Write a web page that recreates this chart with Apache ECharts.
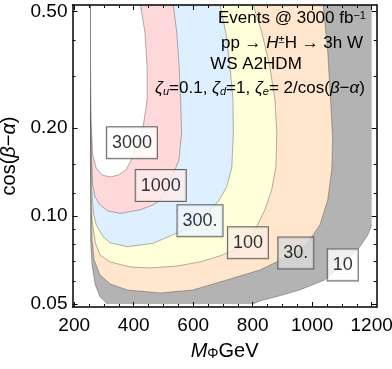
<!DOCTYPE html>
<html>
<head>
<meta charset="utf-8">
<script src="https://cdn.jsdelivr.net/npm/echarts@6.0.0/dist/echarts.min.js"></script>
<style>
html,body{margin:0;padding:0;background:#fff;}
#chart{width:392px;height:369px;}
</style>
</head>
<body>
<div id="chart"></div>
<script>
// ---------------- data ----------------
const levels = [10, 30, 100, 300, 1000, 3000];
const levelLabels = ['10', '30.', '100', '300.', '1000', '3000'];

// contour curves (M_Phi [GeV], cos(beta-alpha)), traced from the top edge, around, back to the top-left edge
const c10x = [1200, 1200, 1187, 1160, 1103, 1042, 958, 891, 824, 801, 311, 287, 271, 260, 255, 255];
const c10y = [0.527, 0.0932, 0.0861, 0.0783, 0.068, 0.0604, 0.0558, 0.0533, 0.0512, 0.05, 0.05, 0.0529, 0.058, 0.068, 0.0828, 0.527];

const c30x = [1037, 1052, 1062, 1069, 1066, 1052, 1026, 985, 945, 881, 824, 713, 599, 489, 378, 321, 287, 267, 260, 257, 255];
const c30y = [0.527, 0.37, 0.249, 0.182, 0.144, 0.113, 0.0932, 0.0809, 0.0747, 0.0696, 0.0653, 0.0604, 0.0558, 0.0545, 0.0558, 0.0585, 0.0628, 0.0707, 0.0828, 0.113, 0.527];

const c100x = [802, 831, 858, 875, 881, 878, 864, 841, 811, 784, 740, 690, 623, 546, 455, 388, 321, 287, 271, 260, 257, 255];
const c100y = [0.527, 0.423, 0.323, 0.249, 0.192, 0.147, 0.123, 0.105, 0.091, 0.0809, 0.0765, 0.073, 0.0696, 0.0674, 0.0664, 0.0669, 0.0696, 0.0735, 0.0809, 0.0969, 0.123, 0.527];

const c300x = [690, 710, 724, 734, 735, 730, 713, 687, 623, 573, 545, 465, 378, 321, 297, 274, 265, 259, 257, 255];
const c300y = [0.527, 0.423, 0.323, 0.249, 0.192, 0.147, 0.126, 0.113, 0.0962, 0.0896, 0.0873, 0.0806, 0.0785, 0.0809, 0.085, 0.0932, 0.102, 0.123, 0.168, 0.527];

const c1000x = [533, 545, 553, 558, 561, 552, 539, 515, 489, 465, 422, 354, 314, 287, 270, 262, 259, 255, 255];
const c1000y = [0.527, 0.423, 0.323, 0.249, 0.192, 0.155, 0.144, 0.128, 0.113, 0.109, 0.105, 0.102, 0.104, 0.109, 0.116, 0.128, 0.155, 0.249, 0.527];

const c3000x = [423, 438, 445, 445, 432, 411, 391, 375, 348, 321, 294, 274, 262, 257, 255, 255];
const c3000y = [0.527, 0.423, 0.323, 0.249, 0.203, 0.178, 0.155, 0.144, 0.138, 0.136, 0.138, 0.146, 0.162, 0.213, 0.342, 0.527];

// contour label positions
const labelX = [1103, 945, 784, 623, 491, 394];
const labelY = [0.068, 0.0747, 0.0809, 0.0962, 0.127, 0.178];

// domain edges of the scan
const xDomainRight = 1200;
const yDomainBottom = 0.05;

// ticks
const xTickValues = [200, 400, 600, 800, 1000, 1200];
const xTickLabels = ['200', '400', '600', '800', '1000', '1200'];
const xMinorValues = [250, 300, 350, 450, 500, 550, 650, 700, 750, 850, 900, 950, 1050, 1100, 1150];
const yTickValues = [0.05, 0.1, 0.2, 0.5];
const yTickLabels = ['0.05', '0.10', '0.20', '0.50'];
const yMinorValues = [0.06, 0.07, 0.08, 0.09, 0.12, 0.15, 0.3, 0.4];

// ---------------- style / layout ----------------
const FONT = "'Liberation Sans', Arial, Helvetica, sans-serif";
const X_MIN = 194.3, X_MAX = 1217;
const Y_MIN = 0.0488, Y_MAX = 0.527;
const fillColors = ['#b3b3b3', '#ffe6cc', '#ffffd9', '#deefff', '#ffd9d9', '#ffffff'];
const boxColors = ['#ffffff', '#d9d9d9', '#fdeee2', '#eef6ff', '#fdecee', '#ffffff'];
const lineColor = 'rgba(40,40,40,0.35)';

const contoursX = [c10x, c30x, c100x, c300x, c1000x, c3000x];
const contoursY = [c10y, c30y, c100y, c300y, c1000y, c3000y];

function pickLabel(vals, labels, v) {
  for (let i = 0; i < vals.length; i++) {
    if (Math.abs(vals[i] - v) <= Math.abs(vals[i]) * 1e-6) return labels[i];
  }
  return '';
}

function polyline(points) {
  return { type: 'polyline', shape: { points: points }, style: { stroke: lineColor, lineWidth: 1, fill: null } };
}

const regionSeries = contoursX.map(function (xs, i) {
  const ys = contoursY[i];
  const pts = xs.map(function (x, k) { return [x, ys[k]]; });
  return {
    type: 'custom',
    name: 'N > ' + levels[i],
    coordinateSystem: 'cartesian2d',
    xAxisIndex: 0, yAxisIndex: 0,
    silent: true,
    z: 2 + i,
    data: pts,
    renderItem: function (params, api) {
      if (params.dataIndex !== 0) return null;
      const poly = pts.map(function (p) { return api.coord(p); });
      const children = [{ type: 'polygon', shape: { points: poly }, style: { fill: fillColors[i], stroke: null } }];
      let seg = [poly[0]];
      for (let k = 1; k < pts.length; k++) {
        const a = pts[k - 1], b = pts[k];
        const onEdge = (a[0] === xDomainRight && b[0] === xDomainRight) ||
                       (a[1] === yDomainBottom && b[1] === yDomainBottom);
        if (onEdge) {
          if (seg.length > 1) children.push(polyline(seg));
          seg = [poly[k]];
        } else {
          seg.push(poly[k]);
        }
      }
      if (seg.length > 1) children.push(polyline(seg));
      return { type: 'group', children: children };
    }
  };
});

const labelSeries = {
  type: 'scatter',
  xAxisIndex: 0, yAxisIndex: 0,
  symbolSize: 0,
  silent: true,
  z: 20,
  itemStyle: { color: 'rgba(0,0,0,0)' },
  data: levelLabels.map(function (t, i) {
    return { value: [labelX[i], labelY[i]], name: t, label: { backgroundColor: boxColors[i] } };
  }),
  label: {
    show: true, position: 'inside',
    formatter: function (p) { return p.name; },
    fontSize: 18, fontFamily: FONT, color: '#000',
    borderColor: '#444', borderWidth: 1,
    padding: [7, 5, 6, 5]
  }
};

function xAxisDef(position, values, len, withLabel, withLine, withName) {
  const ax = {
    type: 'value', position: position, min: X_MIN, max: X_MAX, z: 10,
    axisLine: { show: withLine, onZero: false, lineStyle: { color: '#000', width: 1.5 } },
    axisTick: { show: true, inside: true, length: len, customValues: values, lineStyle: { color: '#000', width: 1 } },
    axisLabel: {
      show: withLabel, customValues: values, margin: 9,
      formatter: function (v) { return pickLabel(xTickValues, xTickLabels, v); },
      fontSize: 19, fontFamily: FONT, color: '#000'
    },
    splitLine: { show: false },
    axisPointer: { show: false }
  };
  if (withName) {
    ax.name = '{i|M}{s|Φ}{n|GeV}';
    ax.nameLocation = 'middle';
    ax.nameGap = 34;
    ax.nameTextStyle = {
      rich: {
        i: { fontSize: 20, fontStyle: 'italic', fontFamily: FONT, color: '#000' },
        s: { fontSize: 14, fontFamily: FONT, color: '#000', verticalAlign: 'bottom', lineHeight: 8 },
        n: { fontSize: 20, fontFamily: FONT, color: '#000' }
      }
    };
  }
  return ax;
}

function yAxisDef(position, values, len, withLabel, withLine, withName) {
  const ax = {
    type: 'log', logBase: 10, position: position, min: Y_MIN, max: Y_MAX, z: 10,
    axisLine: { show: withLine, onZero: false, lineStyle: { color: '#000', width: 1.5 } },
    axisTick: { show: true, inside: true, length: len, customValues: values, lineStyle: { color: '#000', width: 1 } },
    axisLabel: {
      show: withLabel, customValues: values, margin: 5,
      formatter: function (v) { return pickLabel(yTickValues, yTickLabels, v); },
      fontSize: 19, fontFamily: FONT, color: '#000'
    },
    splitLine: { show: false },
    axisPointer: { show: false }
  };
  if (withName) {
    ax.name = '{n|cos(}{i|β}{n|−}{i|α}{n|)}';
    ax.nameLocation = 'middle';
    ax.nameGap = 50;
    ax.nameTextStyle = {
      rich: {
        i: { fontSize: 20, fontStyle: 'italic', fontFamily: FONT, color: '#000' },
        n: { fontSize: 20, fontFamily: FONT, color: '#000' }
      }
    };
  }
  return ax;
}

const TF = '17px ' + FONT;
const TFi = 'italic 17px ' + FONT;
const TFs = '11px ' + FONT;
const TFsi = 'italic 11px ' + FONT;
function annot(x, y, text, rich) {
  return {
    type: 'text', x: x, y: y, z: 30, silent: true,
    style: {
      text: text, font: TF, fill: '#000',
      align: 'center', verticalAlign: 'middle',
      textAlign: 'center', textVerticalAlign: 'middle',
      rich: rich
    }
  };
}
const richDefs = {
  n: { font: TF, fill: '#000' },
  i: { font: TFi, fill: '#000' },
  sup: { font: TFs, fill: '#000', verticalAlign: 'top', lineHeight: 6 },
  sub: { font: TFsi, fill: '#000', verticalAlign: 'bottom', lineHeight: 6 }
};

const option = {
  animation: false,
  backgroundColor: '#ffffff',
  grid: { left: 72.5, right: 15.3, top: 5, bottom: 62, containLabel: false, outerBoundsMode: 'none' },
  xAxis: [
    xAxisDef('bottom', xTickValues, 5, true, true, true),
    xAxisDef('bottom', xMinorValues, 3, false, false, false),
    xAxisDef('top', xTickValues, 5, false, true, false),
    xAxisDef('top', xMinorValues, 3, false, false, false)
  ],
  yAxis: [
    yAxisDef('left', yTickValues, 5, true, true, true),
    yAxisDef('left', yMinorValues, 3, false, false, false),
    yAxisDef('right', yTickValues, 5, false, true, false),
    yAxisDef('right', yMinorValues, 3, false, false, false)
  ],
  series: regionSeries.concat([labelSeries]),
  graphic: [
    annot(292, 18.5, '{n|Events @ 3000 fb}{sup|−1}', richDefs),
    annot(292, 43, '{n|pp → }{i|H}{sup|±}{n|H → 3h W}', richDefs),
    annot(256, 64, '{n|WS A2HDM}', richDefs),
    annot(260, 88.5, '{i|ζ}{sub|u}{n|=0.1, }{i|ζ}{sub|d}{n|=1, }{i|ζ}{sub|e}{n|= 2/cos(}{i|β}{n|−}{i|α}{n|)}', richDefs)
  ]
};

const chart = echarts.init(document.getElementById('chart'), null, { renderer: 'canvas' });
chart.setOption(option);
</script>
</body>
</html>
